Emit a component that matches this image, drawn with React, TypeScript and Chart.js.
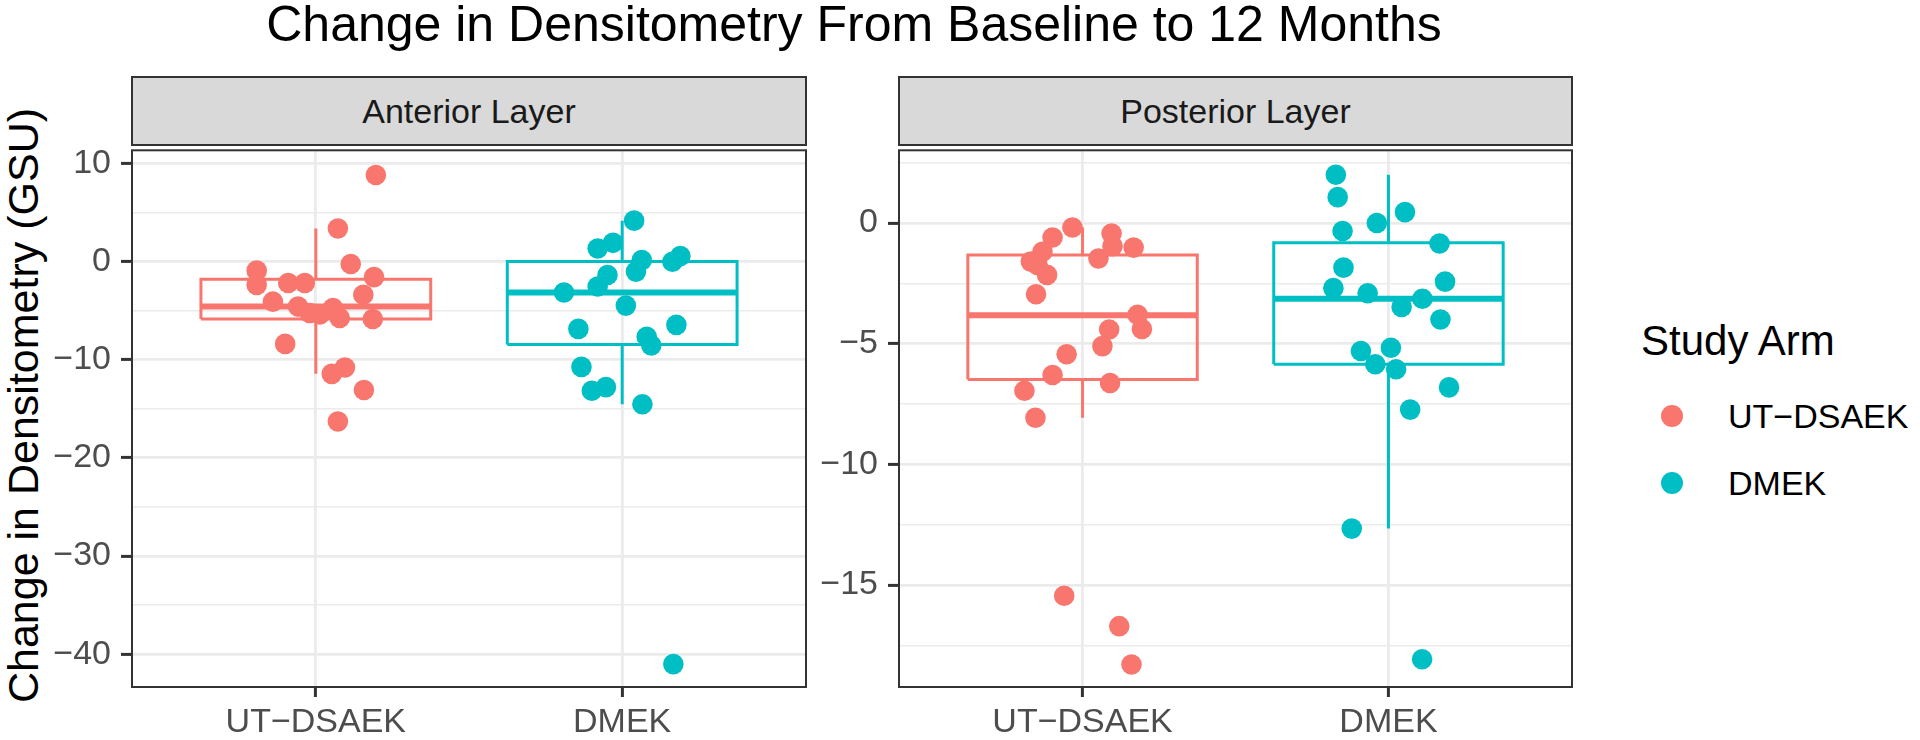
import React, { useEffect, useRef } from "react";
import { Chart, registerables } from "chart.js";

Chart.register(...registerables);

const FONT = '"Liberation Sans", Arial, Helvetica, sans-serif';

// ---------- data ----------
const CATEGORIES = ["UT\u2212DSAEK", "DMEK"];
const PANEL_NAMES = ["Anterior Layer", "Posterior Layer"];
const ARM_COLORS = ["#F8766D", "#00BFC4"];
const CHART_TITLE = "Change in Densitometry From Baseline to 12 Months";
const Y_TITLE = "Change in Densitometry (GSU)";
const LEGEND_TITLE = "Study Arm";

// Anterior layer
const ANT_UT_VALUES = [8.8, 3.35, -0.27, -0.94, -2.39, -2.2, -2.2, -1.6, -3.4, -4.1, -4.6, -5.25, -5.4, -4.75, -5.76, -5.86, -8.4, -10.8, -11.45, -13.1, -16.3];
const ANT_UT_JITTER = [0.196, 0.072, 0.114, -0.193, -0.193, -0.09, -0.036, 0.19, 0.155, -0.14, -0.058, -0.02, 0.013, 0.056, 0.078, 0.186, -0.1, 0.095, 0.052, 0.157, 0.072];
const ANT_DMEK_VALUES = [4.15, 1.31, 1.89, 0.13, -1.04, -0.03, 0.54, -1.38, -2.56, -3.17, -4.5, -6.87, -6.46, -7.68, -8.55, -10.74, -13.17, -12.8, -14.55, -41.0];
const ANT_DMEK_JITTER = [0.039, -0.08, -0.03, 0.064, 0.045, 0.164, 0.19, -0.048, -0.08, -0.19, 0.012, -0.143, 0.177, 0.08, 0.095, -0.133, -0.099, -0.053, 0.066, 0.167];

// Posterior layer
const POST_UT_VALUES = [-0.19, -0.6, -0.44, -0.96, -1.02, -1.19, -1.6, -1.74, -1.47, -2.15, -2.95, -3.8, -4.39, -4.41, -5.1, -5.44, -6.3, -6.63, -6.95, -8.07, -15.44, -16.7, -18.29];
const POST_UT_JITTER = [-0.033, -0.098, 0.095, 0.098, 0.167, -0.131, -0.169, -0.147, 0.052, -0.116, -0.152, 0.18, 0.194, 0.087, 0.065, -0.052, -0.098, 0.09, -0.19, -0.154, -0.06, 0.12, 0.16];
const POST_DMEK_VALUES = [2.0, 1.07, 0.45, 0.0, -0.33, -0.85, -1.85, -2.43, -2.7, -2.91, -3.14, -3.48, -4.0, -5.3, -5.17, -5.85, -6.06, -6.81, -7.73, -12.66, -18.07];
const POST_DMEK_JITTER = [-0.172, -0.166, 0.054, -0.038, -0.15, 0.167, -0.147, 0.185, -0.18, -0.068, 0.111, 0.043, 0.17, -0.09, 0.008, -0.043, 0.025, 0.198, 0.071, -0.12, 0.11];

// Box statistics: [lower whisker, Q1, median, Q3, upper whisker]
const ANT_UT_BOX = [-11.45, -5.86, -4.58, -1.82, 3.35];
const ANT_DMEK_BOX = [-14.55, -8.45, -3.17, 0.0, 4.15];
const POST_UT_BOX = [-8.07, -6.48, -3.82, -1.33, -0.19];
const POST_DMEK_BOX = [-12.66, -5.85, -3.14, -0.82, 2.0];

// Axes
const ANT_Y_MAJOR = [-40, -30, -20, -10, 0, 10];
const ANT_Y_MINOR = [-35, -25, -15, -5, 5];
const ANT_Y_LIMITS = [-43.33, 11.31];
const POST_Y_MAJOR = [-15, -10, -5, 0];
const POST_Y_MINOR = [-17.5, -12.5, -7.5, -2.5, 2.5];
const POST_Y_LIMITS = [-19.22, 3.01];
const X_LIMITS = [0.4, 2.6];
const BOX_HALF_WIDTH = 0.375;

// ---------- helpers ----------
const GRID_COLOR = "#EBEBEB";
const DARK = "#333333";

function fmt(v: number): string {
  return v < 0 ? "\u2212" + String(Math.abs(v)) : String(v);
}

const panelBorder = {
  id: "panelBorder",
  afterDatasetsDraw(chart: any) {
    const { ctx, chartArea: a } = chart;
    ctx.save();
    ctx.strokeStyle = DARK;
    ctx.lineWidth = 2;
    ctx.strokeRect(a.left, a.top, a.right - a.left, a.bottom - a.top);
    ctx.restore();
  },
};

function boxDatasets(center: number, stats: number[], color: string) {
  const [lo, q1, med, q3, hi] = stats;
  const l = center - BOX_HALF_WIDTH;
  const r = center + BOX_HALF_WIDTH;
  const common = {
    type: "scatter",
    showLine: true,
    borderColor: color,
    backgroundColor: color,
    pointRadius: 0,
    pointHoverRadius: 0,
    fill: false,
    tension: 0,
    order: 1,
    borderJoinStyle: "miter",
  };
  return [
    { ...common, borderWidth: 3, data: [{ x: l, y: q1 }, { x: r, y: q1 }, { x: r, y: q3 }, { x: l, y: q3 }, { x: l, y: q1 }] },
    { ...common, borderWidth: 6, data: [{ x: l, y: med }, { x: r, y: med }] },
    { ...common, borderWidth: 3, data: [{ x: center, y: q3 }, { x: center, y: hi }] },
    { ...common, borderWidth: 3, data: [{ x: center, y: lo }, { x: center, y: q1 }] },
  ];
}

function pointDataset(center: number, values: number[], jitter: number[], color: string) {
  return {
    type: "scatter",
    showLine: false,
    data: values.map((v, k) => ({ x: center + jitter[k], y: v })),
    pointRadius: 10.3,
    pointHoverRadius: 10.3,
    pointBorderWidth: 0,
    borderWidth: 0,
    backgroundColor: color,
    borderColor: color,
    order: 0,
  };
}

type PanelProps = {
  left: number;
  width: number;
  yWidth: number;
  padRight: number;
  limits: number[];
  major: number[];
  minor: number[];
  series: { values: number[]; jitter: number[]; box: number[] }[];
};

function Panel(p: PanelProps) {
  const ref = useRef<HTMLCanvasElement>(null);
  useEffect(() => {
    const isMajor = (v: number) => p.major.indexOf(v) >= 0;
    const allTicks = [...p.major, ...p.minor].sort((a, b) => a - b);
    const datasets: any[] = [];
    p.series.forEach((s, i) => {
      datasets.push(pointDataset(i + 1, s.values, s.jitter, ARM_COLORS[i]));
    });
    p.series.forEach((s, i) => {
      datasets.push(...boxDatasets(i + 1, s.box, ARM_COLORS[i]));
    });
    const chart = new Chart(ref.current as HTMLCanvasElement, {
      type: "scatter",
      data: { datasets },
      plugins: [panelBorder],
      options: {
        animation: false,
        responsive: false,
        devicePixelRatio: 1,
        events: [],
        layout: { padding: { top: 6, right: p.padRight, left: 0, bottom: 0 } },
        plugins: { legend: { display: false }, tooltip: { enabled: false }, title: { display: false } },
        scales: {
          x: {
            type: "linear",
            min: X_LIMITS[0],
            max: X_LIMITS[1],
            afterBuildTicks: (s: any) => {
              s.ticks = CATEGORIES.map((_, i) => ({ value: i + 1 }));
            },
            afterFit: (s: any) => {
              s.height = 53;
              s.paddingLeft = 0;
              s.paddingRight = 0;
            },
            border: { display: false },
            grid: { color: GRID_COLOR, lineWidth: 2.8, tickLength: 10, tickColor: DARK, tickWidth: 3 },
            ticks: {
              autoSkip: false,
              maxRotation: 0,
              minRotation: 0,
              padding: 5,
              color: "#4D4D4D",
              font: { family: FONT, size: 34 },
              callback: (v: any) => CATEGORIES[Math.round(v) - 1],
            },
          },
          y: {
            type: "linear",
            min: p.limits[0],
            max: p.limits[1],
            afterBuildTicks: (s: any) => {
              s.ticks = allTicks.map((v) => ({ value: v }));
            },
            afterFit: (s: any) => {
              s.width = p.yWidth;
              s.paddingTop = 0;
              s.paddingBottom = 0;
            },
            border: { display: false },
            grid: {
              color: GRID_COLOR,
              lineWidth: (c: any) => (c.tick && isMajor(c.tick.value) ? 2.8 : 1.4),
              tickLength: 11,
              tickWidth: 3,
              tickColor: (c: any) => (c.tick && isMajor(c.tick.value) ? DARK : "rgba(0,0,0,0)"),
            },
            ticks: {
              autoSkip: false,
              padding: 10,
              color: "#4D4D4D",
              font: { family: FONT, size: 34 },
              callback: (v: any) => (isMajor(v) ? fmt(v) : ""),
            },
          },
        },
      } as any,
    } as any);
    return () => chart.destroy();
  }, []);
  return (
    <canvas
      ref={ref}
      width={p.width}
      height={600}
      style={{ position: "absolute", left: p.left, top: 140, width: p.width, height: 600 }}
    />
  );
}

function Strip({ left, width, text }: { left: number; width: number; text: string }) {
  return (
    <div
      style={{
        position: "absolute",
        left,
        top: 76,
        width,
        height: 70,
        boxSizing: "border-box",
        border: "2px solid " + DARK,
        background: "#D9D9D9",
        color: "#1A1A1A",
        fontSize: 34,
        lineHeight: "66px",
        textAlign: "center",
        whiteSpace: "nowrap",
      }}
    >
      {text}
    </div>
  );
}

export default function App() {
  return (
    <div
      style={{
        position: "absolute",
        left: 0,
        top: 0,
        width: 1920,
        height: 740,
        background: "#FFFFFF",
        overflow: "hidden",
        fontFamily: FONT,
      }}
    >
      <div
        style={{
          position: "absolute",
          left: 0,
          top: -1,
          width: 1708,
          textAlign: "center",
          fontSize: 50,
          lineHeight: "50px",
          color: "#000",
          whiteSpace: "nowrap",
        }}
      >
        {CHART_TITLE}
      </div>
      <div
        style={{
          position: "absolute",
          left: 23 - 320,
          top: 405 - 21.5,
          width: 640,
          height: 43,
          lineHeight: "43px",
          fontSize: 43,
          textAlign: "center",
          color: "#000",
          whiteSpace: "nowrap",
          transform: "rotate(-90deg)",
          transformOrigin: "50% 50%",
        }}
      >
        {Y_TITLE}
      </div>

      <Panel
        left={0}
        width={820}
        yWidth={132}
        padRight={14}
        limits={ANT_Y_LIMITS}
        major={ANT_Y_MAJOR}
        minor={ANT_Y_MINOR}
        series={[
          { values: ANT_UT_VALUES, jitter: ANT_UT_JITTER, box: ANT_UT_BOX },
          { values: ANT_DMEK_VALUES, jitter: ANT_DMEK_JITTER, box: ANT_DMEK_BOX },
        ]}
      />
      <Panel
        left={820}
        width={770}
        yWidth={79}
        padRight={18}
        limits={POST_Y_LIMITS}
        major={POST_Y_MAJOR}
        minor={POST_Y_MINOR}
        series={[
          { values: POST_UT_VALUES, jitter: POST_UT_JITTER, box: POST_UT_BOX },
          { values: POST_DMEK_VALUES, jitter: POST_DMEK_JITTER, box: POST_DMEK_BOX },
        ]}
      />

      <Strip left={131} width={676} text={PANEL_NAMES[0]} />
      <Strip left={898} width={675} text={PANEL_NAMES[1]} />

      <div
        style={{
          position: "absolute",
          left: 1641,
          top: 320,
          fontSize: 42,
          lineHeight: "42px",
          color: "#000",
          whiteSpace: "nowrap",
        }}
      >
        {LEGEND_TITLE}
      </div>
      {CATEGORIES.map((c, i) => (
        <React.Fragment key={c}>
          <div
            style={{
              position: "absolute",
              left: 1672 - 11,
              top: 416 + i * 67 - 11,
              width: 22,
              height: 22,
              borderRadius: "50%",
              background: ARM_COLORS[i],
            }}
          />
          <div
            style={{
              position: "absolute",
              left: 1728,
              top: 399 + i * 67,
              fontSize: 34,
              lineHeight: "34px",
              color: "#000",
              whiteSpace: "nowrap",
            }}
          >
            {c}
          </div>
        </React.Fragment>
      ))}
    </div>
  );
}
